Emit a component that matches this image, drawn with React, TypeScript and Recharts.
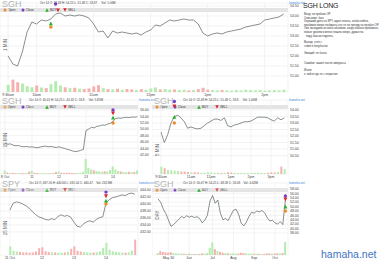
import React from 'react';
import { ComposedChart, Line, Bar, Cell, XAxis, YAxis, CartesianGrid, ReferenceDot } from 'recharts';

// SGH 1 min, Oct 14
const minCloses = [
  52.0, 51.6, 51.5, 52.2, 53.2, 53.7, 53.6, 53.8, 53.75, 53.85,
  54.1, 54.15, 54.0, 54.05, 54.0, 54.05, 54.0, 53.9, 53.6, 53.2,
  53.25, 52.9, 53.25, 53.15, 53.2, 53.15, 53.1, 53.15, 53.05, 53.2,
  53.3, 53.55, 53.5, 53.65, 53.8, 53.75, 53.8, 53.85, 53.8, 53.8,
  53.6, 53.15, 53.0, 53.1, 53.15, 53.1, 53.2, 53.25, 53.3, 53.35,
  53.45, 53.5, 53.55, 53.6, 53.8, 53.85, 53.9, 53.95, 54.1,
];
const minVols = [
  220, 380, 300, 260, 180, 150, 200, 140, 120, 240,
  330, 200, 150, 120, 130, 100, 90, 110, 170, 210,
  120, 90, 80, 100, 70, 90, 80, 60, 90, 70,
  110, 140, 80, 90, 70, 80, 60, 70, 50, 60,
  90, 130, 70, 60, 50, 60, 50, 40, 60, 50,
  70, 60, 50, 60, 40, 50, 60, 50, 70,
];
const minTickIdx = [0, 6, 18, 30, 42, 54];
const minTickLbl = ['9:30am', '10am', '11am', '12pm', '1pm', '2pm'];
const minPriceTicks = [51, 51.5, 52, 52.5, 53, 53.5, 54, 54.5];
const minVolTicks = [0, 100, 200, 300, 400];
const minMarks = [
  { i: 9, p: 53.45, kind: 'open' },
  { i: 9, p: 53.62, kind: 'buy' },
  { i: 10, p: 54.6, kind: 'close' },
  { i: 10.5, p: 54.3, kind: 'sell' },
];

// SGH 15 min, Oct 8 - Oct 14
const m15Closes = [
  45.6, 45.3, 45.4, 45.0, 44.8, 44.9, 44.6, 44.5, 44.6, 44.4,
  44.5, 44.3, 44.2, 44.4, 44.6, 44.7, 44.5, 44.6, 44.4, 44.3,
  44.5, 44.2, 44.0, 43.7, 43.5, 43.2, 43.0, 43.1, 43.4, 43.6,
  49.6, 50.0, 50.6, 50.4, 50.9, 51.0, 51.3, 51.2, 51.6, 51.8,
  52.5, 53.3, 53.5, 53.4, 53.6, 53.7, 53.6, 53.8, 53.7, 53.9,
];
const m15Vols = [
  1400, 600, 400, 500, 300, 400, 300, 350, 400, 900,
  1200, 500, 400, 300, 350, 300, 300, 400, 350, 800,
  1000, 500, 400, 450, 500, 400, 350, 400, 500, 900,
  6000, 2500, 1800, 1500, 1200, 1000, 900, 1100, 1000, 1600,
  3000, 1800, 1200, 1000, 800, 700, 900, 700, 800, 1400,
];
const m15TickIdx = [0, 10, 20, 30, 40];
const m15TickLbl = ['8 Oct', '11', '12', '13', '14'];
const m15PriceTicks = [42, 44, 46, 48, 50, 52, 54, 56];
const m15VolTicks = [0, 2000, 4000, 6000];
const m15Marks = [
  { i: 40, p: 51.9, kind: 'open' },
  { i: 40, p: 53.5, kind: 'buy' },
  { i: 40, p: 56.0, kind: 'close' },
  { i: 40, p: 55.0, kind: 'sell' },
];

// SGH 5 min, Oct 14
const m5Closes = [
  52.3, 51.5, 52.1, 53.0, 53.5, 53.6, 53.4, 53.1, 52.6, 52.7,
  52.6, 52.55, 52.6, 52.8, 53.0, 53.15, 53.3, 53.3, 53.2, 53.4,
  52.8, 52.7, 52.85, 52.9, 53.0, 53.1, 53.1, 53.15, 53.3, 53.45,
  53.45, 53.45, 53.4, 53.25, 53.15, 53.4, 53.25, 53.4,
];
const m5Vols = [
  900, 700, 500, 450, 400, 350, 300, 300, 250, 200,
  220, 180, 150, 160, 200, 180, 150, 140, 130, 150,
  220, 180, 150, 120, 130, 120, 110, 130, 150, 140,
  120, 130, 150, 200, 180, 250, 900, 600,
];
const m5TickIdx = [0, 9, 15, 21, 27, 33];
const m5TickLbl = ['9:30am', '11am', '12pm', '1pm', '2pm', '3pm'];
const m5PriceTicks = [50.5, 51, 51.5, 52, 52.5, 53, 53.5, 54];
const m5VolTicks = [0, 500, 1000];
const m5Marks = [
  { i: 4, p: 53.0, kind: 'open' },
  { i: 4, p: 53.45, kind: 'buy' },
  { i: 4, p: 54.65, kind: 'close' },
  { i: 4, p: 54.3, kind: 'sell' },
];

// SPY 15 min, Oct 11 - Oct 14
const spyCloses = [
  438.3, 440.2, 440.6, 440.4, 440.0, 439.5, 438.8, 437.8, 437.0, 436.3,
  436.0, 435.6, 435.4, 435.8, 435.5, 436.4, 436.9, 436.5, 436.7, 436.2,
  434.8, 433.6, 433.4, 434.3, 434.9, 435.2, 434.8, 435.6, 436.1, 436.3,
  440.3, 441.2, 441.8, 442.0, 442.3, 442.6, 442.4, 442.9, 443.1, 442.8,
];
const spyVols = [
  5000, 2500, 2000, 1800, 1500, 1600, 1400, 1500, 2000, 4000,
  4500, 2200, 1800, 1600, 1500, 1400, 1300, 1500, 1800, 3500,
  5000, 2500, 2000, 1700, 1500, 1400, 1500, 1600, 2000, 4200,
  7000, 3000, 2200, 1800, 1600, 1500, 1400, 1600, 2500, 9000,
];
const spyTickIdx = [0, 10, 20, 30];
const spyTickLbl = ['11 Oct', '12', '13', '14'];
const spyPriceTicks = [432, 434, 436, 438, 440, 442, 444];
const spyVolTicks = [0, 3000, 6000, 9000];
const spyMarks = [
  { i: 30, p: 440.0, kind: 'open' },
  { i: 30, p: 440.9, kind: 'buy' },
  { i: 30, p: 443.4, kind: 'close' },
  { i: 30, p: 442.3, kind: 'sell' },
];

// SGH daily
const dayCloses = [
  53.5, 52.0, 49.0, 46.8, 44.0, 41.0, 41.8, 43.0, 44.2, 45.5,
  44.8, 45.8, 45.2, 45.6, 45.0, 45.4, 44.6, 42.6, 43.8, 46.0,
  52.5, 55.0, 51.5, 53.0, 47.0, 44.0, 44.6, 43.6, 46.0, 48.3,
  48.8, 46.5, 42.5, 41.2, 43.0, 45.5, 47.4, 47.0, 48.0, 47.6,
  48.2, 47.2, 45.0, 43.4, 43.8, 42.6, 42.0, 43.2, 41.8, 53.1,
];
const dayVols = [
  600, 1200, 900, 800, 700, 900, 600, 500, 450, 400,
  400, 350, 400, 350, 300, 350, 300, 500, 450, 600,
  2200, 3800, 1800, 1200, 900, 700, 600, 500, 450, 500,
  400, 450, 700, 600, 500, 450, 400, 350, 400, 350,
  300, 350, 450, 500, 400, 450, 500, 450, 600, 4000,
];
const dayTickIdx = [4, 12, 21, 29, 37, 45];
const dayTickLbl = ['May 30', 'Jun', 'Jul', 'Aug', 'Sep', 'Oct'];
const dayPriceTicks = [38, 40, 42, 44, 46, 48, 50, 52, 54, 56, 58];
const dayVolTicks = [0, 1500, 3000, 4500];
const dayMarks = [
  { i: 49, p: 48.0, kind: 'open' },
  { i: 49, p: 49.8, kind: 'buy' },
  { i: 49, p: 54.8, kind: 'close' },
  { i: 49, p: 53.4, kind: 'sell' },
];

const noteLines = [
  { t: 'Вход: по пробою ОР', y: 14 },
  { t: 'Описание: был', y: 18 },
  { t: 'Хороший день по SPY, ждал отката, чтобы войти,', y: 21.5 },
  { t: 'пробивая вверх набирать что-то по тренду на пробое ОР.', y: 25 },
  { t: 'Уже выходила из зоны объёмов, когда начала пробивать', y: 28.5 },
  { t: 'новые уровни и мягко пошла вверх, думал на', y: 32 },
  { t: 'пару баксов поднять.', y: 36, ind: 2 },
  { t: 'Выход: стоп с', y: 42 },
  { t: 'тэйкп в безубыток.', y: 46 },
  { t: 'Эмоций: не было', y: 53 },
  { t: 'Ошибки: зашёл после импульса', y: 63 },
  { t: 'Итоги:', y: 70.5 },
  { t: 'к: зайти где-то с открытия', y: 74.5 },
];

const FONT = '"Liberation Sans", Arial, sans-serif';
const UP_VOL = '#b4ebae';
const DN_VOL = '#f6b0b0';

const markShape = (kind: string) => (props: any) => {
  const { cx, cy } = props;
  if (cx == null || cy == null) return <g />;
  if (kind === 'open') return <circle cx={cx} cy={cy} r={1.7} fill="#f0892a" />;
  if (kind === 'close') return <circle cx={cx} cy={cy} r={1.7} fill="#7a3dc8" />;
  if (kind === 'buy')
    return <path d={`M${cx},${cy - 2.2}L${cx + 2},${cy + 1.6}L${cx - 2},${cy + 1.6}Z`} fill="#27b02a" />;
  return <path d={`M${cx},${cy + 2.2}L${cx + 2},${cy - 1.6}L${cx - 2},${cy - 1.6}Z`} fill="#d6282a" />;
};

function LegendBar({ width }: { width: number }) {
  const item = (x: number, icon: React.ReactNode, label: string) => (
    <div style={{ position: 'absolute', left: x, top: 0, height: 4, display: 'flex', alignItems: 'center' }}>
      <svg width={4} height={4}>{icon}</svg>
      <span style={{ fontSize: 3, lineHeight: '4px', color: '#333', marginLeft: 1 }}>{label}</span>
    </div>
  );
  return (
    <div style={{ position: 'absolute', left: 0, top: 8, width, height: 4, background: '#e4e4e4' }}>
      {item(3, <circle cx={2} cy={2} r={1.5} fill="#f0892a" />, 'Open')}
      {item(21, <circle cx={2} cy={2} r={1.5} fill="#7a3dc8" />, 'Close')}
      {item(45, <path d="M2,0.3L3.8,3.7L0.2,3.7Z" fill="#27b02a" />, 'BUY')}
      {item(63, <path d="M2,3.7L3.8,0.3L0.2,0.3Z" fill="#d6282a" />, 'SELL')}
    </div>
  );
}

function Panel(props: any) {
  const {
    x, y, w, h, title, header, headerX, period, periodX, periodY,
    closes, vols, xDomain, tickIdx, tickLbl, pDomain, pTicks,
    vDomain, vTicks, marks, barSize,
  } = props;
  const data = closes.map((c: number, i: number) => ({
    i,
    c,
    v: vols[i],
    up: i === 0 ? true : c >= closes[i - 1],
  }));
  const axisW = 14;
  const plotW = w - axisW;
  return (
    <div style={{ position: 'absolute', left: x, top: y, width: w, height: h }}>
      <LegendBar width={plotW} />
      <div style={{ position: 'absolute', left: 0, top: 0 }}>
        <ComposedChart width={w} height={h} data={data} margin={{ top: 3, right: 0, bottom: 0, left: 0 }}>
          <CartesianGrid stroke="#ebebeb" strokeWidth={0.6} yAxisId="p" />
          <XAxis
            dataKey="i"
            type="number"
            domain={xDomain}
            ticks={tickIdx}
            interval={0}
            allowDataOverflow
            tickFormatter={(v: number) => tickLbl[tickIdx.indexOf(v)] ?? ''}
            tick={{ fontSize: 3.5, fill: '#444', fontFamily: FONT }}
            tickLine={false}
            axisLine={false}
            tickSize={0}
            tickMargin={1.5}
            height={6}
          />
          <YAxis
            yAxisId="p"
            orientation="right"
            domain={pDomain}
            ticks={pTicks}
            interval={0}
            allowDataOverflow
            tickFormatter={(v: number) => v.toFixed(2)}
            tick={{ fontSize: 3.5, fill: '#444', fontFamily: FONT }}
            tickLine={false}
            axisLine={false}
            tickSize={0}
            tickMargin={2}
            width={axisW}
          />
          <YAxis
            yAxisId="v"
            orientation="left"
            mirror
            domain={vDomain}
            ticks={vTicks}
            interval={0}
            allowDataOverflow
            tick={{ fontSize: 3, fill: '#555', fontFamily: FONT }}
            tickLine={false}
            axisLine={false}
            tickSize={0}
            tickMargin={0.5}
            width={0}
          />
          <Bar yAxisId="v" dataKey="v" barSize={barSize} isAnimationActive={false}>
            {data.map((d: any, k: number) => (
              <Cell key={k} fill={d.up ? UP_VOL : DN_VOL} />
            ))}
          </Bar>
          <Line
            yAxisId="p"
            dataKey="c"
            type="linear"
            stroke="#55605a"
            strokeWidth={0.7}
            dot={false}
            isAnimationActive={false}
          />
          {marks.map((m: any, k: number) => (
            <ReferenceDot
              key={k}
              yAxisId="p"
              x={m.i}
              y={m.p}
              r={2}
              ifOverflow="extendDomain"
              shape={markShape(m.kind)}
            />
          ))}
        </ComposedChart>
      </div>
      <div style={{ position: 'absolute', left: 2, top: -0.3, fontSize: 9, lineHeight: '8px', color: '#b4b4b4', fontFamily: FONT }}>
        {title}
      </div>
      <div style={{ position: 'absolute', left: headerX, top: 1.5, fontSize: 3, lineHeight: '3px', color: '#444', whiteSpace: 'pre', fontFamily: FONT }}>
        {header}
      </div>
      <div style={{ position: 'absolute', left: plotW + 1, top: 1.5, fontSize: 3, lineHeight: '3px', color: '#3c88d8', fontFamily: FONT }}>
        hamaha.net
      </div>
      <div
        style={{
          position: 'absolute',
          left: periodX,
          top: periodY,
          fontSize: 4.5,
          lineHeight: '5px',
          color: '#666',
          whiteSpace: 'pre',
          fontFamily: FONT,
          transform: 'translate(-50%, -50%) rotate(-90deg)',
        }}
      >
        {period}
      </div>
    </div>
  );
}

export default function App() {
  return (
    <div style={{ position: 'absolute', left: 0, top: 0, width: 380, height: 261, background: '#fff', overflow: 'hidden', fontFamily: FONT }}>
      <Panel
        x={0} y={0} w={302} h={98}
        title="SGH" header={'Oct 14 O: 52.48 H: 54.25 L: 51.48 C: 53.87     Vol: 1.06M'} headerX={40}
        period="1 MIN" periodX={5} periodY={45}
        closes={minCloses} vols={minVols}
        xDomain={[-1.7, 58.9]} tickIdx={minTickIdx} tickLbl={minTickLbl}
        pDomain={[50.2, 54.65]} pTicks={minPriceTicks}
        vDomain={[0, 2740]} vTicks={minVolTicks}
        marks={minMarks} barSize={3}
      />
      <Panel
        x={0} y={97} w={152} h={83}
        title="SGH" header={'Oct 14 O: 45.41 H: 54.25 L: 42.42 C: 53.8     Vol: 5.85M'} headerX={29}
        period="15 MIN" periodX={5} periodY={43}
        closes={m15Closes} vols={m15Vols}
        xDomain={[-1.85, 49.25]} tickIdx={m15TickIdx} tickLbl={m15TickLbl}
        pDomain={[36, 59.1]} pTicks={m15PriceTicks}
        vDomain={[0, 29600]} vTicks={m15VolTicks}
        marks={m15Marks} barSize={2}
      />
      <Panel
        x={152} y={97} w={150} h={83}
        title="SGH" header={'Oct 14 O: 52.48 H: 54.25 L: 51.48 C: 53.8     Vol: 1.06M'} headerX={31}
        period="5 MIN" periodX={5} periodY={53}
        closes={m5Closes} vols={m5Vols}
        xDomain={[-2.7, 38.1]} tickIdx={m5TickIdx} tickLbl={m5TickLbl}
        pDomain={[49.08, 54.77]} pTicks={m5PriceTicks}
        vDomain={[0, 9000]} vTicks={m5VolTicks}
        marks={m5Marks} barSize={2}
      />
      <Panel
        x={0} y={180} w={152} h={81}
        title="SPY" header={'Oct 14 O: 437.16 H: 440.66 L: 431.54 C: 440.47    Vol: 232.8M'} headerX={29}
        period="15 MIN" periodX={5} periodY={48}
        closes={spyCloses} vols={spyVols}
        xDomain={[-3.1, 40]} tickIdx={spyTickIdx} tickLbl={spyTickLbl}
        pDomain={[425.4, 446]} pTicks={spyPriceTicks}
        vDomain={[0, 42000]} vTicks={spyVolTicks}
        marks={spyMarks} barSize={2}
      />
      <Panel
        x={152} y={180} w={150} h={81}
        title="SGH" header={'Oct 14 O: 50.47 H: 54.25 L: 48.58 C: 53.08    Vol: 4.62M'} headerX={31}
        period="DAY" periodX={5} periodY={35}
        closes={dayCloses} vols={dayVols}
        xDomain={[-2.3, 50]} tickIdx={dayTickIdx} tickLbl={dayTickLbl}
        pDomain={[28, 60.7]} pTicks={dayPriceTicks}
        vDomain={[0, 22000]} vTicks={dayVolTicks}
        marks={dayMarks} barSize={2}
      />
      <div style={{ position: 'absolute', left: 303, top: 1.5, fontSize: 7, lineHeight: '7px', color: '#222', letterSpacing: -0.2 }}>
        SGH LONG
      </div>
      {noteLines.map((n, k) => (
        <div
          key={k}
          style={{
            position: 'absolute',
            left: 304 + (n.ind ?? 0),
            top: n.y - 1.5,
            fontSize: 2.8,
            lineHeight: '3px',
            color: '#333',
            whiteSpace: 'nowrap',
          }}
        >
          {n.t}
        </div>
      ))}
      <div style={{ position: 'absolute', left: 321, top: 249, fontSize: 10.5, lineHeight: '11px', color: '#3f73c2' }}>
        hamaha.net
      </div>
    </div>
  );
}
